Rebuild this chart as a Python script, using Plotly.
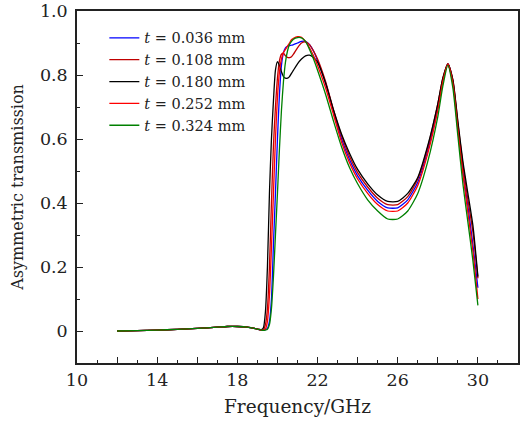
import plotly.graph_objects as go

freq = [12, 13, 14, 15, 16, 17, 17.5, 18, 18.5, 19.0, 19.2, 19.3, 19.4, 19.5, 19.6, 19.7, 19.8, 19.9,
        20.0, 20.1, 20.2, 20.3, 20.4, 20.5, 20.6, 20.7, 20.8, 21.0, 21.2, 21.4, 21.6, 21.8, 22.0, 22.4,
        22.8, 23.2, 23.6, 24.0, 24.5, 25.0, 25.5, 26.0, 26.5, 27.0, 27.5, 28.0, 28.25, 28.5, 28.75,
        29.0, 29.25, 29.5, 29.75, 30.0]

base = [0.0, 0.001, 0.003, 0.005, 0.008, 0.012, 0.014, 0.014, 0.012, 0.006]

t_036 = base + [0.003, 0.003, 0.004, 0.008, 0.03, 0.1, 0.27, 0.43,
                0.6, 0.74, 0.83, 0.87, 0.885, 0.89, 0.892, 0.893, 0.895, 0.9, 0.905, 0.905, 0.895, 0.875, 0.845, 0.775,
                0.685, 0.6, 0.535, 0.485, 0.44, 0.405, 0.385, 0.385, 0.41, 0.465, 0.565, 0.70, 0.785, 0.835, 0.78,
                0.64, 0.5, 0.39, 0.27, 0.135]
t_108 = base + [0.003, 0.004, 0.02, 0.07, 0.2, 0.4, 0.58, 0.70,
                0.79, 0.845, 0.865, 0.868, 0.86, 0.855, 0.854, 0.857, 0.865, 0.885, 0.9, 0.903, 0.895, 0.875, 0.85, 0.78,
                0.69, 0.61, 0.545, 0.495, 0.45, 0.415, 0.395, 0.395, 0.42, 0.475, 0.575, 0.71, 0.79, 0.835, 0.785,
                0.65, 0.52, 0.41, 0.31, 0.165]
t_180 = base + [0.004, 0.01, 0.06, 0.20, 0.43, 0.60, 0.72, 0.815,
                0.842, 0.83, 0.81, 0.795, 0.79, 0.79, 0.795, 0.805, 0.815, 0.835, 0.85, 0.86, 0.862, 0.855, 0.84, 0.775,
                0.69, 0.615, 0.555, 0.505, 0.46, 0.425, 0.405, 0.405, 0.43, 0.48, 0.58, 0.71, 0.79, 0.835, 0.785,
                0.655, 0.53, 0.43, 0.33, 0.17]
t_252 = base + [0.003, 0.003, 0.006, 0.03, 0.11, 0.26, 0.43, 0.6,
                0.73, 0.81, 0.85, 0.87, 0.88, 0.89, 0.90, 0.91, 0.915, 0.92, 0.918, 0.905, 0.885, 0.86, 0.83, 0.76,
                0.675, 0.59, 0.525, 0.475, 0.43, 0.395, 0.375, 0.375, 0.4, 0.455, 0.555, 0.69, 0.78, 0.835, 0.775,
                0.63, 0.49, 0.37, 0.25, 0.10]
t_324 = base + [0.003, 0.002, 0.003, 0.005, 0.02, 0.07, 0.17, 0.3,
                0.43, 0.57, 0.69, 0.78, 0.84, 0.875, 0.895, 0.905, 0.912, 0.917, 0.916, 0.905, 0.88, 0.85, 0.815, 0.74,
                0.655, 0.575, 0.51, 0.46, 0.41, 0.375, 0.35, 0.35, 0.375, 0.43, 0.53, 0.67, 0.765, 0.83, 0.76,
                0.61, 0.46, 0.34, 0.22, 0.08]

series = [
    ("0.036", t_036, "#0000ff"),
    ("0.108", t_108, "#c00000"),
    ("0.180", t_180, "#000000"),
    ("0.252", t_252, "#ff0000"),
    ("0.324", t_324, "#008000"),
]

x_tickvals = [10, 12, 14, 16, 18, 20, 22, 24, 26, 28, 30, 32]
x_ticktext = ["10", "", "14", "", "18", "", "22", "", "26", "", "30", ""]
y_tickvals = [0, 0.2, 0.4, 0.6, 0.8, 1.0]
y_ticktext = ["0", "0.2", "0.4", "0.6", "0.8", "1.0"]

FONT = "DejaVu Serif"
INK = "#222"

fig = go.Figure()
for label, vals, color in series:
    fig.add_trace(go.Scatter(
        x=freq, y=vals, mode="lines",
        line=dict(color=color, width=1.3, shape="spline", smoothing=0.6),
        name="<i>t</i> = " + label + " mm",
    ))

axis_common = dict(
    showline=True, linecolor=INK, linewidth=1.5, mirror=True,
    ticks="inside", ticklen=6, tickwidth=1.3, tickcolor=INK,
    showgrid=False, zeroline=False, automargin=False,
    tickfont=dict(family=FONT, size=17.5, color=INK),
)

fig.update_layout(
    width=521, height=423,
    margin=dict(l=77, r=3, t=11, b=60),
    paper_bgcolor="white", plot_bgcolor="white",
    font=dict(family=FONT, color=INK),
    xaxis=dict(range=[10, 32], tickvals=x_tickvals, ticktext=x_ticktext,
               ticklabelstandoff=0,
               minor=dict(dtick=1, ticks="inside", ticklen=3, tickcolor=INK, tickwidth=1),
               title=dict(text="Frequency/GHz", font=dict(family=FONT, size=18.5, color=INK), standoff=11),
               **axis_common),
    yaxis=dict(range=[-0.1, 1.0], tickvals=y_tickvals, ticktext=y_ticktext,
               ticklabelstandoff=4,
               minor=dict(dtick=0.1, tick0=0, ticks="inside", ticklen=3, tickcolor=INK, tickwidth=1),
               title=dict(text="Asymmetric transmission", font=dict(family=FONT, size=16, color=INK), standoff=12),
               **axis_common),
    legend=dict(x=0.062, y=0.969, xanchor="left", yanchor="top",
                bgcolor="rgba(0,0,0,0)", borderwidth=0, itemwidth=30,
                font=dict(family=FONT, size=14.5, color=INK), tracegroupgap=0),
    showlegend=True,
)

fig.write_html("out.html", config={"displayModeBar": False},
               post_script="document.body.style.margin='0';document.body.style.padding='0';")
